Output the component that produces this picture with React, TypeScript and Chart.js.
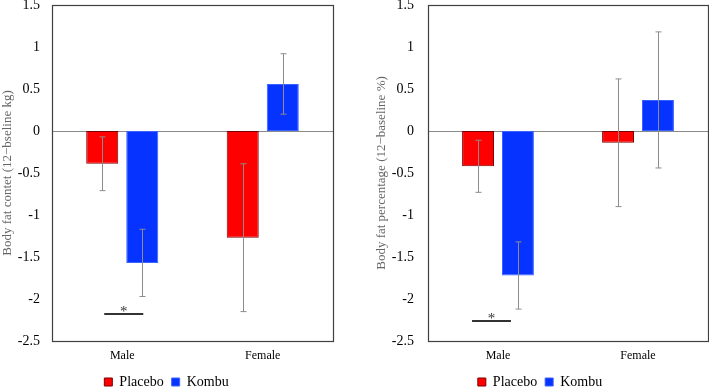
import React, { useEffect, useRef } from 'react';
import { Chart, registerables } from 'chart.js';

Chart.register(...registerables);

// ---- data ----
const categories = ['Male', 'Female'];
const seriesNames = ['Placebo', 'Kombu'];

const contentPlacebo = [-0.39, -1.27];
const contentKombu = [-1.57, 0.56];
const contentPlaceboErr = [0.32, 0.88];
const contentKombuErr = [0.40, 0.36];
const contentSigY = -2.18;

const percentPlacebo = [-0.42, -0.14];
const percentKombu = [-1.72, 0.37];
const percentPlaceboErr = [0.31, 0.76];
const percentKombuErr = [0.40, 0.81];
const percentSigY = -2.26;

const yMin = -2.5;
const yMax = 1.5;
const yStep = 0.5;

const contentTitle = 'Body fat contet (12\u2212bseline kg)';
const percentTitle = 'Body fat percentage (12\u2212baseline %)';

const FONT = "'Liberation Serif', 'Times New Roman', serif";
Chart.defaults.font.family = FONT;

const framePlugin = {
  id: 'frame',
  beforeDatasetsDraw(chart: any) {
    const { ctx, chartArea } = chart;
    const y0 = Math.round(chart.scales.y.getPixelForValue(0)) + 0.5;
    ctx.save();
    ctx.strokeStyle = '#8a8a8a';
    ctx.lineWidth = 1;
    ctx.beginPath();
    ctx.moveTo(chartArea.left, y0);
    ctx.lineTo(chartArea.right, y0);
    ctx.stroke();
    ctx.restore();
  },
  afterDraw(chart: any) {
    const { ctx, chartArea } = chart;
    ctx.save();
    ctx.strokeStyle = '#404040';
    ctx.lineWidth = 1.2;
    ctx.strokeRect(
      Math.round(chartArea.left) + 0.5,
      Math.round(chartArea.top) + 0.5,
      Math.round(chartArea.right - chartArea.left),
      Math.round(chartArea.bottom - chartArea.top)
    );
    ctx.restore();
  },
};

const errorBarPlugin = {
  id: 'errorBars',
  afterDatasetsDraw(chart: any, _args: any, opts: any) {
    const { ctx } = chart;
    const ys = chart.scales.y;
    const errs: number[][] = opts.errors || [];
    chart.data.datasets.forEach((ds: any, di: number) => {
      const meta = chart.getDatasetMeta(di);
      meta.data.forEach((bar: any, i: number) => {
        const v = ds.data[i];
        const e = errs[di] ? errs[di][i] : 0;
        const yt = ys.getPixelForValue(v + e);
        const yb = ys.getPixelForValue(v - e);
        const x = Math.round(bar.x) + 0.5;
        ctx.save();
        ctx.strokeStyle = '#8c8c8c';
        ctx.lineWidth = 1;
        ctx.beginPath();
        ctx.moveTo(x, yt);
        ctx.lineTo(x, yb);
        ctx.moveTo(x - 3, yt);
        ctx.lineTo(x + 3, yt);
        ctx.moveTo(x - 3, yb);
        ctx.lineTo(x + 3, yb);
        ctx.stroke();
        ctx.restore();
      });
    });
  },
};

const sigPlugin = {
  id: 'sig',
  afterDatasetsDraw(chart: any, _args: any, opts: any) {
    if (opts.y === undefined) return;
    const { ctx } = chart;
    const ys = chart.scales.y;
    const b0 = chart.getDatasetMeta(0).data[opts.index];
    const b1 = chart.getDatasetMeta(1).data[opts.index];
    const x1 = b0.x + (opts.startOffset || 0);
    const x2 = b1.x + (opts.endOffset || 0);
    const y = Math.round(ys.getPixelForValue(opts.y));
    ctx.save();
    ctx.strokeStyle = '#333333';
    ctx.lineWidth = 2;
    ctx.beginPath();
    ctx.moveTo(x1, y);
    ctx.lineTo(x2, y);
    ctx.stroke();
    ctx.fillStyle = '#333333';
    ctx.font = `15px ${FONT}`;
    ctx.textAlign = 'center';
    ctx.textBaseline = 'alphabetic';
    ctx.fillText('*', (x1 + x2) / 2, y + 2);
    ctx.restore();
  },
};

type PanelProps = {
  width: number;
  placebo: number[];
  kombu: number[];
  placeboErr: number[];
  kombuErr: number[];
  sigY: number;
  title: string;
  padLeft: number;
  padRight: number;
  axisWidth: number;
  titlePad: number;
  tickPad: number;
  sigStart: number;
  sigEnd: number;
};

function Panel(p: PanelProps) {
  const ref = useRef<HTMLCanvasElement | null>(null);
  useEffect(() => {
    if (!ref.current) return;
    const chart = new Chart(ref.current, {
      type: 'bar',
      data: {
        labels: categories,
        datasets: [
          {
            label: seriesNames[0],
            data: p.placebo,
            backgroundColor: '#ff0000',
            borderColor: '#7a0000',
            borderWidth: 1,
            borderSkipped: false,
            categoryPercentage: 0.57,
            barPercentage: 0.8,
          },
          {
            label: seriesNames[1],
            data: p.kombu,
            backgroundColor: '#0633ff',
            borderColor: '#3a62ff',
            borderWidth: 1,
            borderSkipped: false,
            categoryPercentage: 0.57,
            barPercentage: 0.8,
          },
        ],
      },
      options: {
        responsive: false,
        animation: false,
        events: [],
        layout: {
          padding: { top: 5, left: p.padLeft, right: p.padRight, bottom: -11 },
        },
        scales: {
          x: {
            grid: { display: false, drawTicks: false },
            border: { display: false },
            ticks: {
              padding: 8,
              color: '#000',
              font: { family: FONT, size: 12 },
              maxRotation: 0,
            },
            afterFit(scale: any) {
              scale.height = 26;
            },
          },
          y: {
            min: yMin,
            max: yMax,
            grid: { display: false, drawTicks: false },
            border: { display: false },
            ticks: {
              stepSize: yStep,
              padding: p.tickPad,
              color: '#000',
              font: { family: FONT, size: 14 },
              callback: (v: any) => String(Math.round(Number(v) * 10) / 10),
            },
            title: {
              display: true,
              text: p.title,
              color: '#666666',
              font: { family: FONT, size: 13 },
              padding: { top: p.titlePad, bottom: 0 },
            },
            afterFit(scale: any) {
              scale.width = p.axisWidth;
              scale.paddingTop = 0;
              scale.paddingBottom = 0;
            },
          },
        },
        plugins: {
          legend: {
            display: true,
            position: 'bottom',
            labels: {
              boxWidth: 8,
              boxHeight: 8,
              padding: 8,
              color: '#000',
              font: { family: FONT, size: 14 },
            },
          },
          tooltip: { enabled: false },
          errorBars: { errors: [p.placeboErr, p.kombuErr] },
          sig: { y: p.sigY, index: 0, startOffset: p.sigStart, endOffset: p.sigEnd },
        } as any,
      },
      plugins: [framePlugin, errorBarPlugin, sigPlugin],
    } as any);
    return () => chart.destroy();
  }, []);
  return (
    <canvas
      ref={ref}
      width={p.width}
      height={388}
      style={{ display: 'block', width: p.width, height: 388 }}
    />
  );
}

export default function App() {
  return (
    <div
      style={{
        position: 'fixed',
        left: 0,
        top: 0,
        width: 709,
        height: 388,
        display: 'flex',
        background: '#fff',
      }}
    >
      <Panel
        width={355}
        placebo={contentPlacebo}
        kombu={contentKombu}
        placeboErr={contentPlaceboErr}
        kombuErr={contentKombuErr}
        sigY={contentSigY}
        title={contentTitle}
        padLeft={0}
        padRight={22}
        axisWidth={52}
        titlePad={0}
        tickPad={12}
        sigStart={2}
        sigEnd={1}
      />
      <Panel
        width={354}
        placebo={percentPlacebo}
        kombu={percentKombu}
        placeboErr={percentPlaceboErr}
        kombuErr={percentKombuErr}
        sigY={percentSigY}
        title={percentTitle}
        padLeft={17}
        padRight={1}
        axisWidth={56}
        titlePad={2}
        tickPad={14}
        sigStart={-6}
        sigEnd={-7}
      />
    </div>
  );
}
